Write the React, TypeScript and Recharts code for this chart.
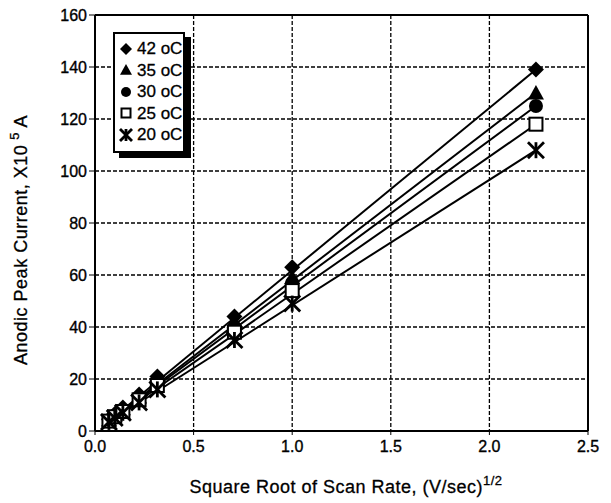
import React from 'react';
import {
  ComposedChart,
  Line,
  Scatter,
  XAxis,
  YAxis,
  CartesianGrid,
  ReferenceLine,
  Label,
} from 'recharts';

// square root of scan rate, (V/sec)^1/2
const rootRate = [0.0707, 0.1, 0.1414, 0.2236, 0.3162, 0.7071, 1.0, 2.2361];

// anodic peak current, x10^5 A
const current42 = [4.5, 6.5, 9, 14, 21, 44, 63, 139];
const current35 = [4.2, 6, 8.5, 13, 19.5, 42, 59, 130];
const current30 = [4, 5.8, 8, 12.5, 18.5, 40, 57, 125];
const current25 = [3.8, 5.5, 7.5, 12, 17.5, 38, 54, 118];
const current20 = [3.5, 5, 7, 11, 16, 35, 49, 108];

// fitted line ends (start, end)
const fitX = [0.05, 2.2361];
const fit42 = [2.5, 139];
const fit35 = [2.5, 130];
const fit30 = [2.5, 125];
const fit25 = [2.5, 118];
const fit20 = [2.5, 108];

const xTicks = [0, 0.5, 1.0, 1.5, 2.0, 2.5];
const yTicks = [0, 20, 40, 60, 80, 100, 120, 140, 160];

type Kind = 'diamond' | 'triangle' | 'circle' | 'square' | 'star';

const seriesList: { name: string; kind: Kind; values: number[]; fit: number[] }[] = [
  { name: '42 oC', kind: 'diamond', values: current42, fit: fit42 },
  { name: '35 oC', kind: 'triangle', values: current35, fit: fit35 },
  { name: '30 oC', kind: 'circle', values: current30, fit: fit30 },
  { name: '25 oC', kind: 'square', values: current25, fit: fit25 },
  { name: '20 oC', kind: 'star', values: current20, fit: fit20 },
];

const font = 'Arial, "Liberation Sans", Helvetica, sans-serif';

function Marker({ cx, cy, kind, s = 8 }: { cx: number; cy: number; kind: Kind; s?: number }) {
  if (cx == null || cy == null) return null;
  switch (kind) {
    case 'diamond':
      return (
        <polygon
          points={`${cx},${cy - s} ${cx + s},${cy} ${cx},${cy + s} ${cx - s},${cy}`}
          fill="#000"
        />
      );
    case 'triangle':
      return (
        <polygon
          points={`${cx},${cy - s} ${cx + s},${cy + s * 0.8} ${cx - s},${cy + s * 0.8}`}
          fill="#000"
        />
      );
    case 'circle':
      return <circle cx={cx} cy={cy} r={s - 1} fill="#000" />;
    case 'square':
      return (
        <rect
          x={cx - s + 1.5}
          y={cy - s + 1.5}
          width={2 * s - 3}
          height={2 * s - 3}
          fill="#fff"
          stroke="#000"
          strokeWidth={2}
        />
      );
    case 'star':
      return (
        <g stroke="#000" strokeWidth={2.8}>
          <line x1={cx - s} y1={cy - s} x2={cx + s} y2={cy + s} />
          <line x1={cx - s} y1={cy + s} x2={cx + s} y2={cy - s} />
          <line x1={cx} y1={cy - s} x2={cx} y2={cy + s} />
        </g>
      );
  }
  return null;
}

// legend box drawn over the plot, top-left corner
const LegendBox = () => (
  <div
    style={{
      position: 'absolute',
      left: 113,
      top: 32,
      border: '2px solid #000',
      boxShadow: '6px 5px 0 #000',
      background: '#fff',
      padding: '4px 1px 5px 4px',
      fontFamily: font,
      fontSize: 17,
      lineHeight: 1,
      color: '#000',
      WebkitTextStroke: '0.3px #000',
    }}
  >
    {seriesList.map((s) => (
      <div key={s.name} style={{ display: 'flex', alignItems: 'center', height: 21.5 }}>
        <svg width={14} height={14} style={{ marginRight: 4 }}>
          <Marker cx={7} cy={7} kind={s.kind} s={6} />
        </svg>
        <span>{s.name}</span>
      </div>
    ))}
  </div>
);

const tickStyle = { fill: '#000', fontSize: 16, fontFamily: font, stroke: '#000', strokeWidth: 0.35 };

export default function App() {
  return (
    <div style={{ position: 'absolute', left: 0, top: 0, width: 611, height: 503, background: '#fff' }}>
      <ComposedChart
        width={611}
        height={503}
        margin={{ top: 15, right: 23, left: 0, bottom: 0 }}
      >
        <CartesianGrid stroke="#000" strokeDasharray="4 2" strokeWidth={1.3} />
        <XAxis
          type="number"
          dataKey="x"
          domain={[0, 2.5]}
          ticks={xTicks}
          tickFormatter={(v: number) => v.toFixed(1)}
          height={72}
          tick={tickStyle}
          tickSize={4}
          tickMargin={6}
          axisLine={{ stroke: '#000', strokeWidth: 2 }}
          tickLine={{ stroke: '#000' }}
          allowDataOverflow
        >
          <Label
            content={() => (
              <text
                x={346}
                y={493}
                textAnchor="middle"
                fontSize={18}
                letterSpacing={0.5}
                fontFamily={font}
                fill="#000"
                stroke="#000"
                strokeWidth={0.3}
              >
                Square Root of Scan Rate, (V/sec)
                <tspan dy={-8} fontSize={13}>1/2</tspan>
              </text>
            )}
          />
        </XAxis>
        <YAxis
          type="number"
          domain={[0, 160]}
          ticks={yTicks}
          width={95}
          tick={tickStyle}
          tickSize={6}
          axisLine={{ stroke: '#000', strokeWidth: 2 }}
          tickLine={{ stroke: '#000' }}
          allowDataOverflow
        >
          <Label
            content={() => (
              <text
                x={27}
                y={240}
                transform="rotate(-90 27 240)"
                textAnchor="middle"
                fontSize={18}
                letterSpacing={0.5}
                fontFamily={font}
                fill="#000"
                stroke="#000"
                strokeWidth={0.3}
              >
                Anodic Peak Current, X10
                <tspan dx={5} dy={-8} fontSize={13}>5</tspan>
                <tspan dy={8}> A</tspan>
              </text>
            )}
          />
        </YAxis>
        <ReferenceLine y={160} stroke="#000" strokeWidth={2} />
        <ReferenceLine x={2.5} stroke="#000" strokeWidth={2} />
        {seriesList.map((s) => (
          <Line
            key={'fit' + s.name}
            data={fitX.map((x, i) => ({ x, y: s.fit[i] }))}
            dataKey="y"
            type="linear"
            stroke="#000"
            strokeWidth={2}
            dot={false}
            activeDot={false}
            legendType="none"
            isAnimationActive={false}
          />
        ))}
        {seriesList.map((s) => (
          <Scatter
            key={'pts' + s.name}
            name={s.name}
            data={rootRate.map((x, i) => ({ x, y: s.values[i] }))}
            dataKey="y"
            fill="#000"
            shape={(p: any) => <Marker cx={p.cx} cy={p.cy} kind={s.kind} />}
            isAnimationActive={false}
          />
        ))}
      </ComposedChart>
      <LegendBox />
    </div>
  );
}
